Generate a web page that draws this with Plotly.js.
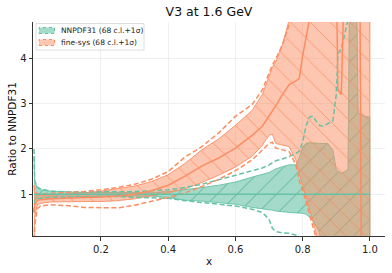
<!DOCTYPE html>
<html>
<head>
<meta charset="utf-8">
<script src="https://cdn.plot.ly/plotly-3.0.1.min.js"></script>
<style>html,body{margin:0;padding:0;background:#fff;}#chart{width:392px;height:273px;}</style>
</head>
<body>
<div id="chart"></div>
<script>
// ---- data ----
const xVals = [0.001,0.003,0.01,0.02,0.05,0.1,0.15,0.2,0.25,0.3,0.35,0.4,0.45,0.5,0.55,0.6,0.65,0.68,0.7,0.71,0.72,0.74,0.76,0.78,0.79,0.8,0.81,0.82,0.83,0.84,0.85,0.86,0.875,0.89,0.9,0.905,0.915,0.925,0.935,0.94,0.96,0.965,0.97,0.975,0.985,1.0];

// NNPDF31 (reference): central, 68 c.l. band, 1 sigma band
const nnpdfCentral = xVals.map(() => 1.0);
const nnpdf68Up = [1.85,1.3,1.15,1.1,1.07,1.05,1.04,1.04,1.04,1.04,1.04,1.06,1.1,1.15,1.2,1.27,1.38,1.44,1.48,1.52,1.56,1.61,1.65,1.65,1.8,2.05,2.12,2.14,2.13,2.12,2.12,2.12,2.12,1.97,1.55,1.5,1.47,1.5,1.55,6,6,2.8,2.78,2.76,2.72,2.7];
const nnpdf68Dn = [0.85,0.88,0.9,0.92,0.94,0.95,0.96,0.96,0.96,0.96,0.96,0.93,0.87,0.85,0.82,0.78,0.71,0.68,0.66,0.65,0.63,0.61,0.6,0.59,0.58,0.58,0.56,0.5,0.42,0.3,0.15,-0.3,-1,-1,-1,-1,-1,-1,-1,-1,-1,-1,-1,-1,-1,-1];
const nnpdf1sUp = [2.0,1.3,1.16,1.12,1.07,1.05,1.05,1.05,1.05,1.06,1.08,1.1,1.15,1.22,1.32,1.42,1.52,1.58,1.65,1.7,1.74,1.78,1.83,1.9,1.95,2.15,2.5,2.7,2.72,2.62,2.52,2.5,2.56,2.62,3.2,4.1,4.2,4.5,4.85,6,6,6,6,6,6,6];
const nnpdf1sDn = [0.6,0.86,0.89,0.91,0.93,0.94,0.95,0.95,0.95,0.94,0.93,0.91,0.86,0.82,0.79,0.74,0.67,0.6,0.45,0.25,0.18,0.15,0.14,0.1,0.02,-0.3,-1,-1,-1,-1,-1,-1,-1,-1,-1,-1,-1,-1,-1,-1,-1,-1,-1,-1,-1,-1];

// fine-sys: central, 68 c.l. band, 1 sigma band
const fineCentral = [0.6,0.78,0.86,0.88,0.9,0.92,0.93,0.94,0.96,1.0,1.08,1.2,1.4,1.62,1.8,2.02,2.3,2.5,2.72,2.82,2.95,3.2,3.42,3.5,3.55,4.05,4.5,4.85,6,6,6,6,6,6,6,3.3,3.2,6,6,6,6,6,6,-1,-1,-1];
const fine68Up = [1.1,1.02,0.98,0.97,0.98,1.0,1.03,1.07,1.12,1.18,1.28,1.43,1.68,1.98,2.22,2.52,2.85,3.2,3.6,3.8,3.92,4.3,4.85,6,6,6,6,6,6,6,6,6,6,6,6,6,6,6,6,6,6,6,6,6,6,6];
const fine68Dn = [0.05,0.5,0.75,0.8,0.83,0.84,0.84,0.84,0.86,0.9,0.96,1.03,1.12,1.26,1.42,1.6,1.84,2.08,2.3,2.33,2.12,2.08,2.05,1.75,1.45,1.2,0.95,0.7,0.42,0.15,-0.3,-1,-1,-1,-1,-1,-1,-1,-1,-1,-1,-1,-1,-1,-1,-1];
const fine1sUp = [1.2,1.08,1.02,1.01,1.02,1.04,1.06,1.1,1.15,1.22,1.33,1.5,1.82,2.05,2.35,2.72,2.98,3.3,3.65,3.85,3.98,4.3,4.75,6,6,6,6,6,6,6,6,6,6,6,6,6,6,6,6,6,6,6,6,6,6,6];
const fine1sDn = [-0.5,0.3,0.68,0.74,0.77,0.75,0.71,0.7,0.7,0.76,0.84,0.93,1.03,1.17,1.33,1.52,1.76,1.98,2.12,2.15,2.02,1.98,1.94,1.65,1.3,1.1,0.82,0.58,0.3,0.05,-0.5,-1,-1,-1,-1,-1,-1,-1,-1,-1,-1,-1,-1,-1,-1,-1];

const xTickVals = [0.2,0.4,0.6,0.8,1.0];
const xTickText = ['0.2','0.4','0.6','0.8','1.0'];
const yTickVals = [1,2,3,4];
const yTickText = ['1','2','3','4'];
const seriesNames = ['NNPDF31 (68 c.l.+1σ)','fine-sys (68 c.l.+1σ)'];

// ---- styling ----
const GREEN = 'rgb(102,194,165)';
const ORANGE = 'rgb(252,141,98)';
const FONT = 'DejaVu Sans, Liberation Sans, sans-serif';

function band(up, dn, color, fill, hatch, hatchColor) {
  return {
    x: xVals.concat(xVals.slice().reverse()),
    y: up.concat(dn.slice().reverse()),
    type: 'scatter', mode: 'lines', fill: 'toself',
    fillcolor: fill,
    fillpattern: {shape: hatch, size: 14, solidity: 0.055, fgcolor: hatchColor, bgcolor: fill, fgopacity: 1},
    line: {color: color, width: 1},
    hoverinfo: 'skip', showlegend: false
  };
}
function line(y, color, dash, w) {
  return {x: xVals, y: y, type: 'scatter', mode: 'lines',
    line: {color: color, width: w, dash: dash}, hoverinfo: 'skip', showlegend: false};
}

const traces = [
  band(nnpdf68Up, nnpdf68Dn, 'rgba(102,194,165,0.9)', 'rgba(102,194,165,0.6)', '/', 'rgb(70,165,135)'),
  band(fine68Up, fine68Dn, 'rgba(252,141,98,0.9)', 'rgba(252,141,98,0.5)', '\\', 'rgb(252,141,98)'),
  line(nnpdf1sUp, GREEN, '5px,2.6px', 1.5),
  line(nnpdf1sDn, GREEN, '5px,2.6px', 1.5),
  line(fine1sUp, ORANGE, '5px,2.6px', 1.5),
  line(fine1sDn, ORANGE, '5px,2.6px', 1.5),
  line(nnpdfCentral, GREEN, 'solid', 1.5),
  line(fineCentral, ORANGE, 'solid', 1.5)
];

const W = 392, H = 273, ML = 33, MR = 7, MT = 22, MB = 37;
const PW = W - ML - MR, PH = H - MT - MB;
const px2x = p => (p - ML) / PW;
const py2y = p => 1 - (p - MT) / PH;

const axisCommon = {
  showline: true, linecolor: '#333', linewidth: 1,
  ticks: 'outside', ticklen: 3.5, tickwidth: 1, tickcolor: '#333',
  showgrid: true, gridcolor: '#ebebeb', gridwidth: 0.8,
  zeroline: false, mirror: false,
  tickfont: {family: FONT, size: 10, color: '#222'}
};

const layout = {
  width: W, height: H,
  margin: {l: ML, r: MR, t: MT, b: MB, pad: 0},
  paper_bgcolor: '#fff', plot_bgcolor: '#fff',
  showlegend: false,
  title: {text: 'V3 at 1.6 GeV', font: {family: FONT, size: 12.5, color: '#111'},
          x: 0.5, xref: 'paper', y: 1 - 12 / H, yref: 'container', yanchor: 'middle'},
  xaxis: Object.assign({}, axisCommon, {
    range: [-0.002, 1.045], tickvals: xTickVals, ticktext: xTickText,
    title: {text: 'x', font: {family: FONT, size: 10.5, color: '#111'}, standoff: 4}
  }),
  yaxis: Object.assign({}, axisCommon, {
    range: [0.08, 4.8], tickvals: yTickVals, ticktext: yTickText,
    title: {text: 'Ratio to NNPDF31', font: {family: FONT, size: 10.5, color: '#111'}, standoff: 1}
  }),
  shapes: [
    {type: 'rect', xref: 'paper', yref: 'paper', x0: px2x(36), x1: px2x(144), y0: py2y(50), y1: py2y(23.5),
     fillcolor: 'rgba(255,255,255,0.85)', line: {color: '#d5d5d5', width: 0.8}},
    {type: 'rect', xref: 'paper', yref: 'paper', x0: px2x(39), x1: px2x(54.5), y0: py2y(33.5), y1: py2y(27.5),
     fillcolor: 'rgba(102,194,165,0.6)', line: {color: GREEN, width: 1, dash: 'dot'}},
    {type: 'rect', xref: 'paper', yref: 'paper', x0: px2x(39), x1: px2x(54.5), y0: py2y(45.5), y1: py2y(39.5),
     fillcolor: 'rgba(252,141,98,0.5)', line: {color: ORANGE, width: 1, dash: 'dot'}}
  ],
  annotations: [
    {text: seriesNames[0], xref: 'paper', yref: 'paper', x: px2x(59), y: py2y(30.5), xanchor: 'left', yanchor: 'middle',
     showarrow: false, font: {family: FONT, size: 7.5, color: '#222'}},
    {text: seriesNames[1], xref: 'paper', yref: 'paper', x: px2x(59), y: py2y(42.5), xanchor: 'left', yanchor: 'middle',
     showarrow: false, font: {family: FONT, size: 7.5, color: '#222'}}
  ]
};

Plotly.newPlot('chart', traces, layout, {staticPlot: true, displayModeBar: false});
</script>
</body>
</html>
